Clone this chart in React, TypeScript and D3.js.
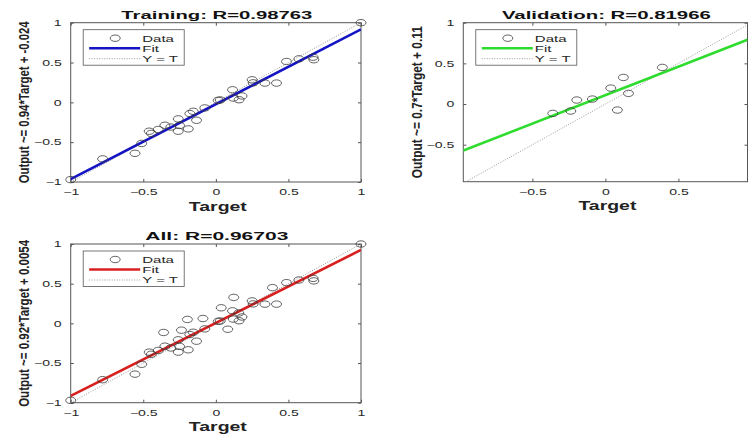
import React, { useEffect, useRef } from "react";
import * as d3 from "d3";

// training set (target, output)
const trainTarget = [-1.0, -0.78, -0.557, -0.511, -0.459, -0.445, -0.397, -0.351, -0.31, -0.259, -0.259, -0.25, -0.19, -0.179, -0.156, -0.133, -0.076, 0.016, 0.03, 0.115, 0.12, 0.16, 0.18, 0.25, 0.257, 0.338, 0.418, 0.487, 0.572, 0.67, 0.675, 1.0];
const trainOutput = [-0.97, -0.71, -0.64, -0.516, -0.3625, -0.39, -0.341, -0.2875, -0.31, -0.2075, -0.3625, -0.29, -0.333, -0.141, -0.1125, -0.225, -0.07, 0.025, 0.03, 0.158, 0.054, 0.033, 0.08, 0.283, 0.245, 0.242, 0.242, 0.513, 0.546, 0.567, 0.535, 1.0];

// validation set
const valTarget = [-0.36, -0.237, -0.196, -0.089, 0.037, 0.082, 0.123, 0.158, 0.39];
const valOutput = [-0.115, -0.086, 0.049, 0.061, 0.196, -0.074, 0.327, 0.131, 0.45];

// all = training + validation
const allTarget = trainTarget.concat(valTarget);
const allOutput = trainOutput.concat(valOutput);

const titles = ["Training: R=0.98763", "Validation: R=0.81966", "All: R=0.96703"];
const yLabels = ["Output ~= 0.94*Target + -0.024", "Output ~= 0.7*Target + 0.11", "Output ~= 0.92*Target + 0.0054"];
const fitSlope = [0.94, 0.7, 0.92];
const fitIntercept = [-0.024, 0.11, 0.0054];
const legendLabels = ["Data", "Fit", "Y = T"];
const ticksFull = [-1, -0.5, 0, 0.5, 1];
const ticksVal = [-0.5, 0, 0.5];
const ticksValY = [-0.5, 0, 0.5, 1];

const FONT = "'Liberation Sans', Arial, Helvetica, sans-serif";
const SX = 1.6; // the picture is stretched sideways

const App = () => {
  const ref = useRef<SVGSVGElement | null>(null);

  useEffect(() => {
    const svg = d3.select(ref.current);
    svg.selectAll("*").remove();

    const panels = [
      { t: trainTarget, o: trainOutput, x0: 70.7, x1: 361, y0: 22.7, y1: 182, xd: [-1, 1], yd: [-1, 1], xt: ticksFull, yt: ticksFull, color: "#1414c4", titleLen: 191, yLen: 162 },
      { t: valTarget, o: valOutput, x0: 463.3, x1: 747.5, y0: 22.7, y1: 181.7, xd: [-0.973, 0.973], yd: [-0.955, 1], xt: ticksVal, yt: ticksValY, color: "#2edc2e", titleLen: 209, yLen: 152 },
      { t: allTarget, o: allOutput, x0: 70.7, x1: 361, y0: 244, y1: 402.7, xd: [-1, 1], yd: [-1, 1], xt: ticksFull, yt: ticksFull, color: "#d81f1f", titleLen: 143, yLen: 167 },
    ];

    panels.forEach((p, i) => {
      const x = d3.scaleLinear().domain(p.xd).range([p.x0, p.x1]);
      const y = d3.scaleLinear().domain(p.yd).range([p.y1, p.y0]);
      const g = svg.append("g");
      const clipId = "clip" + i;
      g.append("clipPath").attr("id", clipId)
        .append("rect").attr("x", p.x0).attr("y", p.y0)
        .attr("width", p.x1 - p.x0).attr("height", p.y1 - p.y0);

      g.append("rect").attr("x", p.x0).attr("y", p.y0)
        .attr("width", p.x1 - p.x0).attr("height", p.y1 - p.y0)
        .attr("fill", "#fff");

      const styleAxis = (sel: any) => {
        sel.select(".domain").remove();
        sel.selectAll("line").attr("stroke", "#555");
        sel.selectAll("text").attr("fill", "#262626")
          .style("font-family", FONT).style("font-size", "8.8px");
      };

      const bottom = g.append("g").attr("transform", `translate(0,${p.y1})`)
        .call(d3.axisBottom(x).tickValues(p.xt).tickSize(-3).tickPadding(7).tickFormat(d3.format("")));
      styleAxis(bottom);
      bottom.selectAll("text").attr("transform", `scale(${SX},1)`);

      const left = g.append("g").attr("transform", `translate(${p.x0},0)`)
        .call(d3.axisLeft(y).tickValues(p.yt).tickSize(-3).tickPadding(8).tickFormat(d3.format("")));
      styleAxis(left);
      left.selectAll("text").attr("x", -9 / SX).attr("transform", `scale(${SX},1)`);

      const top = g.append("g").attr("transform", `translate(0,${p.y0})`)
        .call(d3.axisTop(x).tickValues(p.xt).tickSize(-3).tickFormat(() => ""));
      styleAxis(top);
      const right = g.append("g").attr("transform", `translate(${p.x1},0)`)
        .call(d3.axisRight(y).tickValues(p.yt).tickSize(-3).tickFormat(() => ""));
      styleAxis(right);

      // box
      g.append("rect").attr("x", p.x0).attr("y", p.y0)
        .attr("width", p.x1 - p.x0).attr("height", p.y1 - p.y0)
        .attr("fill", "none").attr("stroke", "#555").attr("stroke-width", 1);

      const plot = g.append("g").attr("clip-path", `url(#${clipId})`);

      // Y = T
      plot.append("line")
        .attr("x1", x(p.xd[0])).attr("y1", y(p.xd[0]))
        .attr("x2", x(p.xd[1])).attr("y2", y(p.xd[1]))
        .attr("stroke", "#9a9a9a").attr("stroke-width", 1).attr("stroke-dasharray", "1,1.5");

      // fit
      const fit = (v: number) => fitSlope[i] * v + fitIntercept[i];
      plot.append("line")
        .attr("x1", x(p.xd[0])).attr("y1", y(fit(p.xd[0])))
        .attr("x2", x(p.xd[1])).attr("y2", y(fit(p.xd[1])))
        .attr("stroke", p.color).attr("stroke-width", 2.6);

      // data
      g.selectAll("ellipse.pt").data(p.t).enter().append("ellipse")
        .attr("class", "pt")
        .attr("cx", (d) => x(d)).attr("cy", (d, k) => y(p.o[k]))
        .attr("rx", 5).attr("ry", 3.2)
        .attr("fill", "none").attr("stroke", "#3a3a3a").attr("stroke-width", 0.8);

      // legend
      const lx = p.x0 + 12.5;
      const ly = p.y0 + 7;
      const lg = g.append("g");
      lg.append("rect").attr("x", lx).attr("y", ly).attr("width", 101).attr("height", 35.5)
        .attr("fill", "#fff").attr("stroke", "#555").attr("stroke-width", 0.8);
      lg.append("ellipse").attr("cx", lx + 32).attr("cy", ly + 8.5).attr("rx", 5).attr("ry", 3.2)
        .attr("fill", "none").attr("stroke", "#3a3a3a").attr("stroke-width", 0.8);
      lg.append("line").attr("x1", lx + 6).attr("x2", lx + 57).attr("y1", ly + 18.5).attr("y2", ly + 18.5)
        .attr("stroke", p.color).attr("stroke-width", 2.6);
      lg.append("line").attr("x1", lx + 6).attr("x2", lx + 57).attr("y1", ly + 29).attr("y2", ly + 29)
        .attr("stroke", "#9a9a9a").attr("stroke-width", 1).attr("stroke-dasharray", "1,1.5");
      legendLabels.forEach((s, k) => {
        lg.append("text")
          .attr("transform", `translate(${lx + 59},${ly + 11.8 + k * 10.3}) scale(${SX},1)`)
          .style("font-family", FONT).style("font-size", "9.4px").attr("fill", "#262626")
          .text(s);
      });

      const cx = (p.x0 + p.x1) / 2;
      // title
      g.append("text").attr("x", cx + 1).attr("y", p.y0 - 4)
        .attr("text-anchor", "middle").style("font-family", FONT)
        .style("font-size", "11px").style("font-weight", "bold").attr("fill", "#111")
        .attr("textLength", p.titleLen).attr("lengthAdjust", "spacingAndGlyphs")
        .text(titles[i]);

      // x label
      g.append("text").attr("x", cx + 2).attr("y", p.y1 + 28.5)
        .attr("text-anchor", "middle").style("font-family", FONT)
        .style("font-size", "13px").style("font-weight", "bold").attr("fill", "#222")
        .attr("textLength", 58).attr("lengthAdjust", "spacingAndGlyphs")
        .text("Target");

      // y label: rotated, then widened like the rest of the picture
      g.append("text")
        .attr("transform", `translate(${p.x0 - 41.5},${(p.y0 + p.y1) / 2}) scale(1.25,1) rotate(-90)`)
        .attr("text-anchor", "middle").style("font-family", FONT)
        .style("font-size", "11px").style("font-weight", "bold").attr("fill", "#222")
        .attr("textLength", p.yLen).attr("lengthAdjust", "spacingAndGlyphs")
        .text(yLabels[i]);
    });
  }, []);

  return (
    <svg ref={ref} width={750} height={440}
      style={{ position: "absolute", left: 0, top: 0, background: "#fff", display: "block" }} />
  );
};

export default App;
